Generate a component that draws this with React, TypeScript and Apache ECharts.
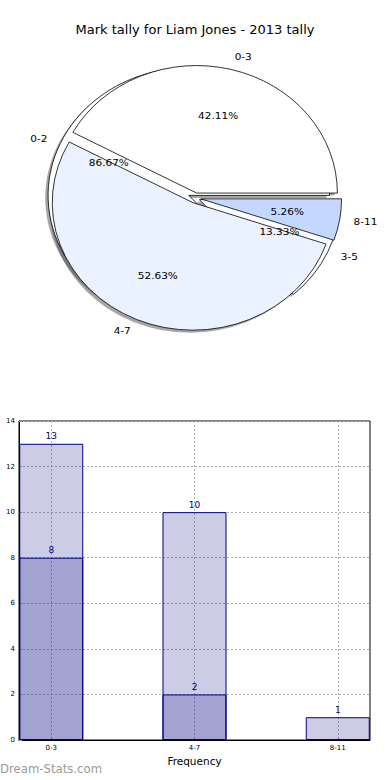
import React, { useEffect, useRef } from 'react';
import * as echarts from 'echarts';

const FONT = 'DejaVu Sans';
const TITLE = 'Mark tally for Liam Jones - 2013 tally';

// Pie (upper layer)
const pieOuterNames = ['0-3', '4-7', '8-11'];
const pieOuterValues = [8, 10, 1];

// Pie (lower layer)
const pieInnerNames = ['0-2', '3-5'];
const pieInnerValues = [13, 2];

// Bars
const barCategories = ['0-3', '4-7', '8-11'];
const barTotals = [13, 10, 1];
const barSubset = [8, 2];
const barPositions = [0, 1, 2];
const yMin = 0;
const yMax = 14;
const yStep = 2;

// ---- styling / geometry (not data) ----
const R = 134;
const CX = 195.25;
const CY = 198;
const SCALE_X = 140.75 / R;
const SCALE_Y = 127.5 / R;
const SHADOW_DX = -2.7;
const SHADOW_DY = 2.6;
const outerStyle = {
  colors: ['#ffffff', '#eaf1ff', '#c4d8ff'],
  explode: [0.04, 0.04, 0.04],
  startAngle: 0,
};
const innerStyle = {
  colors: ['#ffffff', '#ffffff'],
  explode: [0.05, 0.032],
  startAngle: 0,
};

type Layer = { names: string[]; values: number[]; colors: string[]; explode: number[]; startAngle: number };
const outerLayer: Layer = { names: pieOuterNames, values: pieOuterValues, ...outerStyle };
const innerLayer: Layer = { names: pieInnerNames, values: pieInnerValues, ...innerStyle };

const HIDDEN = { color: 'rgba(0,0,0,0)', borderWidth: 0 };

function sliceSeries(layer: Layer, idx: number, mode: 'shadow' | 'body' | 'pct') {
  return {
    type: 'pie',
    center: mode === 'shadow' ? [CX + SHADOW_DX, CY + SHADOW_DY] : [CX, CY],
    radius: mode === 'pct' ? [0, R * 1.2] : R,
    startAngle: layer.startAngle,
    clockwise: false,
    selectedMode: 'multiple',
    selectedOffset: layer.explode[idx] * R,
    avoidLabelOverlap: false,
    silent: true,
    emphasis: { disabled: true, scale: false },
    labelLine: { show: false, length: R * 0.1, length2: 0 },
    data: layer.names.map((n, i) => {
      const vis = i === idx;
      let itemStyle: any = HIDDEN;
      if (vis && mode === 'shadow') itemStyle = { color: 'rgba(77,77,77,0.5)', borderWidth: 0 };
      if (vis && mode === 'body') itemStyle = { color: layer.colors[i], borderColor: '#000', borderWidth: 0.8 };
      let label: any = { show: false };
      if (vis && mode === 'body')
        label = {
          show: true,
          position: 'outside',
          formatter: '{b}',
          fontFamily: FONT,
          fontSize: 10,
          color: '#000',
          distanceToLabelLine: 0,
        };
      if (vis && mode === 'pct')
        label = {
          show: true,
          position: 'inside',
          formatter: '{d}%',
          fontFamily: FONT,
          fontSize: 10,
          color: '#000',
        };
      return { name: n, value: layer.values[i], selected: true, itemStyle, label };
    }),
  };
}

function layerSeries(layer: Layer, mode: 'shadow' | 'body' | 'pct') {
  return layer.names.map((_, i) => sliceSeries(layer, i, mode));
}

export default function App() {
  const mainRef = useRef<HTMLDivElement>(null);
  const pieRef = useRef<HTMLDivElement>(null);
  useEffect(() => {
    document.body.style.margin = '0';
    const main = echarts.init(mainRef.current!, null, { renderer: 'svg' });
    const pie = echarts.init(pieRef.current!, null, { renderer: 'svg' });

    const barLabel = {
      show: true,
      position: 'top',
      distance: 3,
      color: '#000080',
      fontSize: 9,
      fontFamily: FONT,
      formatter: (p: any) => String(p.value[1]),
    };
    const barItem = { color: 'rgba(0,0,128,0.2)', borderColor: '#000080', borderWidth: 1 };

    main.setOption({
      animation: false,
      textStyle: { fontFamily: FONT },
      title: {
        text: TITLE,
        left: 'center',
        top: 18,
        textStyle: { fontFamily: FONT, fontSize: 13, fontWeight: 'normal', color: '#000' },
      },
      grid: {
        left: 19,
        right: 20,
        top: 421,
        bottom: 40,
        show: true,
        borderColor: '#000',
        borderWidth: 1,
        backgroundColor: 'transparent',
        containLabel: false,
        outerBoundsMode: 'none',
      },
      xAxis: {
        type: 'value',
        min: -0.225,
        max: 2.225,
        axisLine: { show: true, onZero: false, lineStyle: { color: '#000', width: 1 } },
        axisTick: { show: true, inside: true, length: 3, customValues: barPositions, lineStyle: { color: '#999' } },
        axisLabel: {
          customValues: barPositions,
          formatter: (v: number) => barCategories[Math.round(v)] ?? '',
          fontSize: 7,
          color: '#000',
          margin: 4,
          fontFamily: FONT,
        },
        splitLine: { show: true, lineStyle: { color: '#b0b0b0', type: [2, 2], width: 1 } },
        name: 'Frequency',
        nameLocation: 'middle',
        nameGap: 15,
        nameTextStyle: { fontSize: 10.5, color: '#000', fontFamily: FONT },
      },
      yAxis: {
        type: 'value',
        min: yMin,
        max: yMax,
        interval: yStep,
        axisLine: { show: true, onZero: false, lineStyle: { color: '#000', width: 1 } },
        axisTick: { show: true, inside: true, length: 3, lineStyle: { color: '#999' } },
        axisLabel: { fontSize: 7, color: '#000', margin: 4, fontFamily: FONT },
        splitLine: { show: true, lineStyle: { color: '#b0b0b0', type: [2, 2], width: 1 } },
        name: 'Occurrences',
        nameLocation: 'middle',
        nameRotate: 90,
        nameGap: 23,
        nameTextStyle: { fontSize: 10.5, color: '#000', fontFamily: FONT },
      },
      series: [
        {
          type: 'bar',
          name: 'total',
          data: barTotals.map((v, i) => [barPositions[i], v]),
          barWidth: 64,
          barGap: '-100%',
          silent: true,
          itemStyle: barItem,
          label: barLabel,
        },
        {
          type: 'bar',
          name: 'subset',
          data: barSubset.map((v, i) => [barPositions[i], v]),
          barWidth: 64,
          barGap: '-100%',
          silent: true,
          itemStyle: barItem,
          label: barLabel,
        },
      ],
      graphic: [
        {
          type: 'text',
          left: 0,
          top: 763,
          style: { text: 'Dream-Stats.com', fill: '#9a9a9a', fontSize: 11.7, fontFamily: FONT },
        },
      ],
    });

    pie.setOption({
      animation: false,
      textStyle: { fontFamily: FONT },
      series: [
        ...layerSeries(innerLayer, 'shadow'),
        ...layerSeries(outerLayer, 'shadow'),
        ...layerSeries(innerLayer, 'body'),
        ...layerSeries(outerLayer, 'body'),
        ...layerSeries(innerLayer, 'pct'),
        ...layerSeries(outerLayer, 'pct'),
      ],
    });

    return () => {
      main.dispose();
      pie.dispose();
    };
  }, []);
  return (
    <div style={{ position: 'absolute', left: 0, top: 0, width: 390, height: 780 }}>
      <div
        ref={mainRef}
        style={{ position: 'absolute', left: 0, top: 0, width: 390, height: 780, background: '#fff' }}
      />
      <div
        ref={pieRef}
        style={{
          position: 'absolute',
          left: 0,
          top: 0,
          width: 390,
          height: 400,
          transform: `scale(${SCALE_X}, ${SCALE_Y})`,
          transformOrigin: `${CX}px ${CY}px`,
        }}
      />
    </div>
  );
}
